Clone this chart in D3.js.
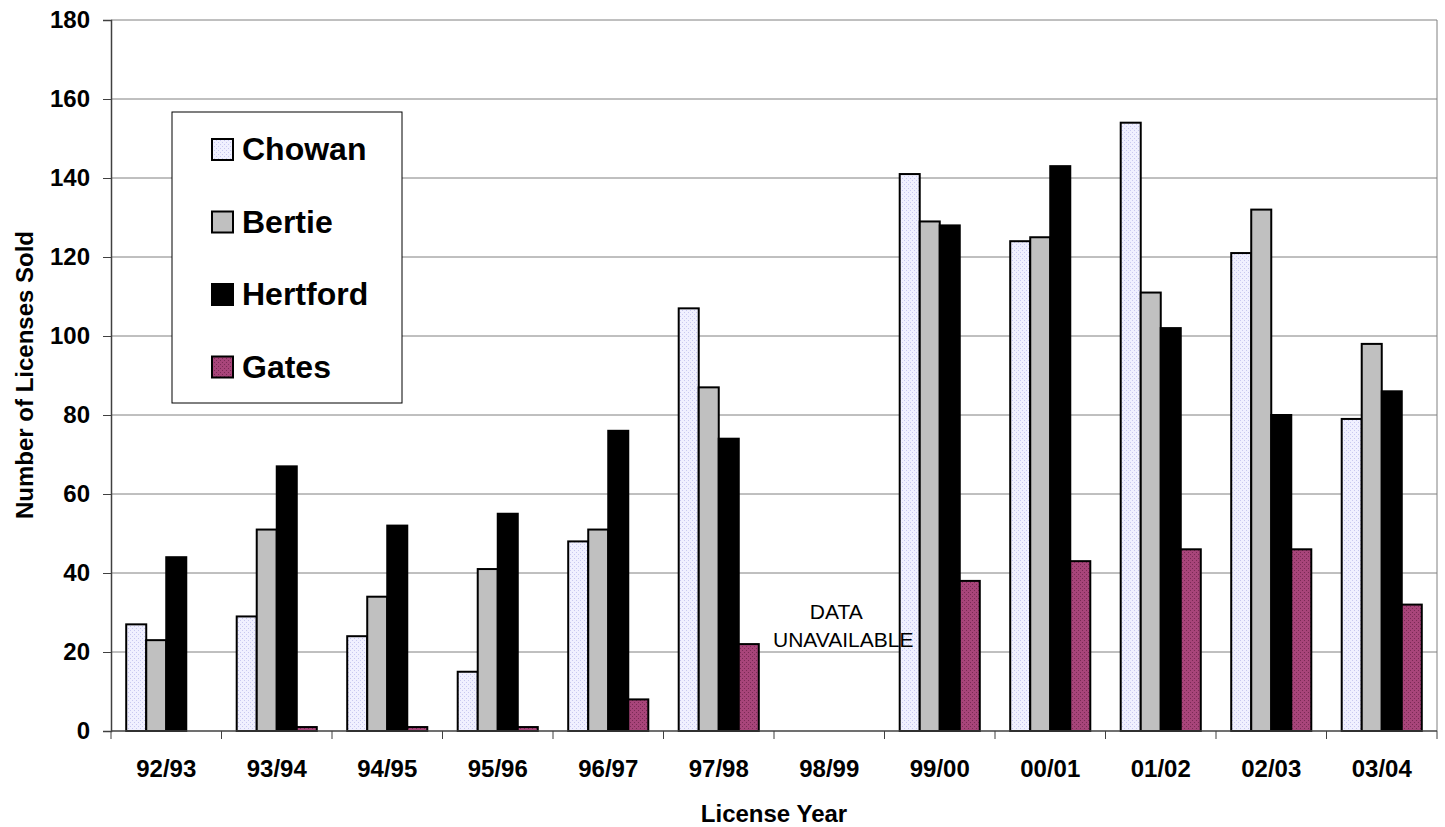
<!DOCTYPE html>
<html><head><meta charset="utf-8">
<script src="https://cdn.jsdelivr.net/npm/d3@7"></script>
<style>body{margin:0;background:#fff}svg{display:block;font-family:Arial,"Liberation Sans",sans-serif}</style>
</head><body>
<script>
const years = ["92/93","93/94","94/95","95/96","96/97","97/98","98/99","99/00","00/01","01/02","02/03","03/04"];
const seriesNames = ["Chowan","Bertie","Hertford","Gates"];
const chowan   = [27,29,24,15,48,107,null,141,124,154,121,79];
const bertie   = [23,51,34,41,51,87,null,129,125,111,132,98];
const hertford = [44,67,52,55,76,74,null,128,143,102,80,86];
const gates    = [null,1,1,1,8,22,null,38,43,46,46,32];
const yTicks = [0,20,40,60,80,100,120,140,160,180];
const seriesValues = [chowan, bertie, hertford, gates];

const W = 1445, H = 827;
const m = {left:111, top:20, right:1437, bottom:731};
const svg = d3.select("body").append("svg").attr("width",W).attr("height",H);

const defs = svg.append("defs");
function dotPattern(id, base, dot){
  const p = defs.append("pattern").attr("id",id).attr("width",4).attr("height",4).attr("patternUnits","userSpaceOnUse");
  p.append("rect").attr("width",4).attr("height",4).attr("fill",base);
  p.append("rect").attr("x",0).attr("y",0).attr("width",1).attr("height",1).attr("fill",dot);
  p.append("rect").attr("x",2).attr("y",2).attr("width",1).attr("height",1).attr("fill",dot);
}
dotPattern("pChowan","#f0f0ff","#c8c8f0");
dotPattern("pGates","#a8457a","#7a2a55");
const fills = ["url(#pChowan)","#c0c0c0","#000000","url(#pGates)"];

const x0 = d3.scaleBand().domain(years).range([m.left,m.right]).padding(0);
const x1 = d3.scaleBand().domain(seriesNames).range([0,x0.bandwidth()]).paddingInner(0).paddingOuter(0.76);
const y = d3.scaleLinear().domain([0,180]).range([m.bottom,m.top]);

// gridlines
svg.append("g").selectAll("line").data(yTicks.filter(d=>d>0)).join("line")
  .attr("x1",m.left).attr("x2",m.right).attr("y1",d=>y(d)).attr("y2",d=>y(d))
  .attr("stroke","#808080").attr("stroke-width",1);
// right border
svg.append("line").attr("x1",m.right).attr("x2",m.right).attr("y1",m.top).attr("y2",m.bottom).attr("stroke","#808080");

// bars
const g = svg.append("g");
seriesNames.forEach((s,si)=>{
  g.append("g").selectAll("rect").data(years.map((yr,i)=>({yr,v:seriesValues[si][i]})).filter(d=>d.v!=null))
    .join("rect")
    .attr("x",d=>x0(d.yr)+x1(s))
    .attr("y",d=>y(d.v))
    .attr("width",x1.bandwidth())
    .attr("height",d=>y(0)-y(d.v))
    .attr("fill",fills[si]).attr("stroke","#000").attr("stroke-width",2);
});

// axes
const yAxis = svg.append("g").attr("transform",`translate(${m.left},0)`)
  .call(d3.axisLeft(y).tickValues(yTicks).tickSize(8).tickPadding(13));
yAxis.attr("font-family",null).attr("font-size",null);
yAxis.select(".domain").attr("stroke","#404040").attr("stroke-width",1.5);
yAxis.selectAll(".tick line").attr("stroke","#404040");
yAxis.selectAll("text").attr("font-size",24).attr("font-weight","bold").attr("fill","#000").attr("dy","0.3em");

const xAxis = svg.append("g").attr("transform",`translate(0,${m.bottom})`);
xAxis.append("line").attr("x1",m.left).attr("x2",m.right).attr("stroke","#404040").attr("stroke-width",1.5);
const bounds = years.map(yr=>x0(yr)).concat([m.right]);
xAxis.selectAll(".tk").data(bounds).join("line").attr("class","tk")
  .attr("x1",d=>d).attr("x2",d=>d).attr("y1",0).attr("y2",8).attr("stroke","#404040");
xAxis.selectAll("text").data(years).join("text")
  .attr("x",d=>x0(d)+x0.bandwidth()/2).attr("y",46).attr("text-anchor","middle")
  .attr("font-size",24).attr("font-weight","bold").text(d=>d);

// axis titles
svg.append("text").attr("x",774).attr("y",822).attr("text-anchor","middle")
  .attr("font-size",24).attr("font-weight","bold").text("License Year");
svg.append("text").attr("transform","translate(33,375) rotate(-90)").attr("text-anchor","middle")
  .attr("font-size",24).attr("font-weight","bold").text("Number of Licenses Sold");

// annotation
const na = svg.append("text").attr("text-anchor","middle").attr("font-size",21);
na.append("tspan").attr("x",x0("98/99")+x0.bandwidth()/2+7).attr("y",619).text("DATA");
na.append("tspan").attr("x",x0("98/99")+x0.bandwidth()/2+14).attr("y",647).text("UNAVAILABLE");

// legend
const lg = svg.append("g");
lg.append("rect").attr("x",172).attr("y",112).attr("width",230).attr("height",291)
  .attr("fill","#fff").attr("stroke","#000").attr("stroke-width",1);
seriesNames.forEach((s,i)=>{
  const top = 139 + i*72.5;
  lg.append("rect").attr("x",212).attr("y",top).attr("width",21).attr("height",21)
    .attr("fill",fills[i]).attr("stroke","#000").attr("stroke-width",2);
  lg.append("text").attr("x",242).attr("y",top+21).attr("font-size",32).attr("font-weight","bold").text(s);
});
</script>
</body></html>
